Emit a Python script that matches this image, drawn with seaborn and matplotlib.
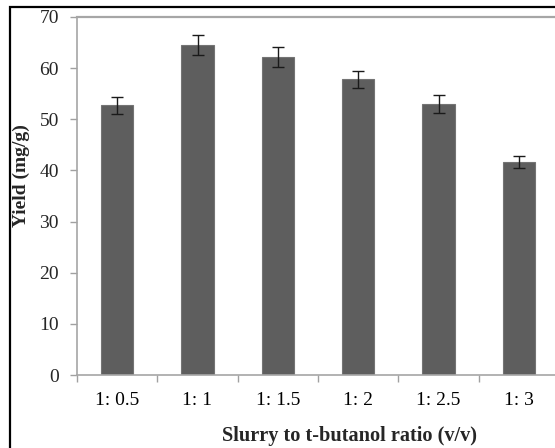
import numpy as np
import pandas as pd
import matplotlib
matplotlib.use("Agg")
import matplotlib.pyplot as plt
import seaborn as sns
from matplotlib.patches import Rectangle

# Data
ratios = ["1: 0.5", "1: 1", "1: 1.5", "1: 2", "1: 2.5", "1: 3"]
yield_mg_g = [52.7, 64.5, 62.2, 57.8, 53.0, 41.7]
yield_err = [1.6, 2.0, 2.0, 1.7, 1.7, 1.2]

df = pd.DataFrame({"ratio": ratios, "yield": yield_mg_g})

sns.set_style("white")
plt.rcParams["font.family"] = ["Liberation Serif", "DejaVu Serif"]

fig = plt.figure(figsize=(5.55, 4.48), dpi=100)
W, H = 555, 448
# plot area runs off the right edge like in the original crop
ax = fig.add_axes([77 / W, 1 - 375 / H, 482 / W, 358 / H])

sns.barplot(data=df, x="ratio", y="yield", color="#5e5e5e", width=0.4,
            edgecolor="#747474", linewidth=0.8, errorbar=None, ax=ax,
            saturation=1)
ax.errorbar(np.arange(len(ratios)), yield_mg_g, yerr=yield_err, fmt="none",
            ecolor="#1a1a1a", elinewidth=1.0, capsize=4, capthick=1.0)

ax.set_xlim(-0.5, len(ratios) - 0.5)
ax.set_ylim(0, 70)
ax.set_yticks(range(0, 71, 10))

# ticks between categories, labels centered on bars
ax.set_xticks(np.arange(-0.5, len(ratios), 1.0), minor=True)
ax.tick_params(axis="x", which="major", length=0, pad=12, labelsize=14,
               colors="black")
ax.tick_params(axis="x", which="minor", length=5, width=1, color="#a0a0a0",
               direction="out", bottom=True)
ax.tick_params(axis="y", which="major", length=5, width=1, color="#a0a0a0",
               direction="out", left=True, pad=8, labelsize=14)

for s in ax.spines.values():
    s.set_color("#a6a6a6")
    s.set_linewidth(1.2)
ax.spines["top"].set_linewidth(1.6)

ax.set_xlabel("Slurry to t-butanol ratio (v/v)", fontsize=14.6, fontweight="bold")
ax.set_ylabel("Yield (mg/g)", fontsize=14, fontweight="bold")
ax.xaxis.set_label_coords(0.566, -0.142)
ax.yaxis.set_label_coords(-0.097, 0.556)

# outer frame of the figure panel
fig.patches.append(Rectangle((10 / W, -0.1), 1.2, 1.1 - 7 / H,
                             transform=fig.transFigure, fill=False,
                             edgecolor="black", linewidth=1.6))

fig.savefig("out.png", dpi=100)
